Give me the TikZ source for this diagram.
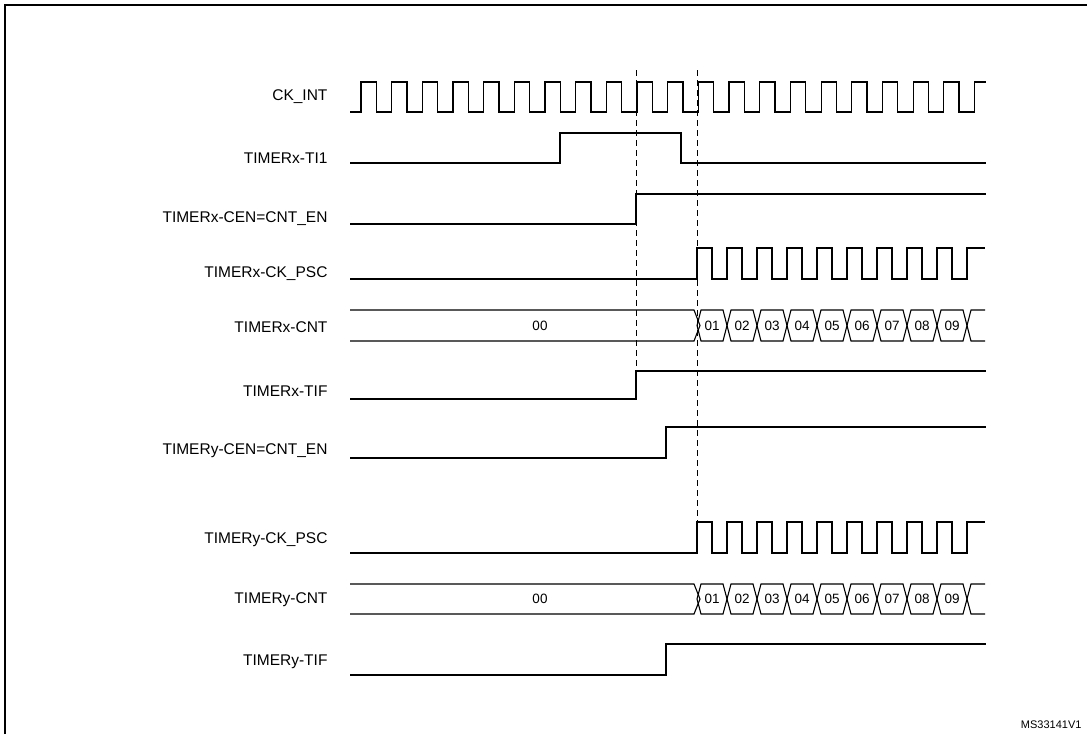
\documentclass[tikz,border=0pt]{standalone}
\usepackage{fontspec}
\setmainfont{Liberation Sans}
\begin{document}
\begin{tikzpicture}[x=1pt,y=-1pt,
  sig/.style={line width=1.1pt,black},
  lbl/.style={anchor=east,font=\fontsize{15.5}{18}\selectfont},
  dsh/.style={line width=1pt,dash pattern=on 6pt off 4pt},
  bv/.style={font=\fontsize{13.5}{16}\selectfont}]
\useasboundingbox (0,0) rectangle (1087,734);
\draw[line width=2pt] (5,734) -- (5,5) -- (1087,5);
% labels
\node[lbl] (l1) at (331,97) {CK\_INT};
\node[lbl] (l2) at (331,158) {TIMERx-TI1};
\node[lbl] (l3) at (331,219) {TIMERx-CEN=CNT\_EN};
\node[lbl] (l4) at (331,274) {TIMERx-CK\_PSC};
\node[lbl] (l5) at (331,327) {TIMERx-CNT};
\node[lbl] (l6) at (331,391) {TIMERx-TIF};
\node[lbl] (l7) at (331,451) {TIMERy-CEN=CNT\_EN};
\node[lbl] (l8) at (331,540) {TIMERy-CK\_PSC};
\node[lbl] (l9) at (331,600) {TIMERy-CNT};
\node[lbl] (l10) at (331,662) {TIMERy-TIF};
\node[anchor=south east,font=\fontsize{11}{13}\selectfont] (ms) at (1085,732) {MS33141V1};
% dashed
\draw[dsh] (636,70) -- (636,372);
\draw[dsh] (697,70) -- (697,522);
% CK_INT
\draw[sig] (350,112) -- (361,112)
  foreach \k in {0,...,19} { -- ({361+\k*30.67},112) -- ({361+\k*30.67},82) -- ({376.3+\k*30.67},82) -- ({376.3+\k*30.67},112) }
  -- (974.4,112) -- (974.4,82) -- (986,82);
% TI1
\draw[sig] (350,163) -- (560,163) -- (560,133) -- (681,133) -- (681,163) -- (986,163);
% CEN x
\draw[sig] (350,224) -- (636,224) -- (636,194) -- (986,194);
% CK_PSC x
\draw[sig] (350,279) -- (697,279)
  foreach \k in {0,...,8} { -- ({697+\k*30},279) -- ({697+\k*30},248) -- ({712+\k*30},248) -- ({712+\k*30},279) }
  -- (967,279) -- (967,248) -- (985,248);
% TIF x
\draw[sig] (350,399) -- (636,399) -- (636,371) -- (986,371);
% CEN y
\draw[sig] (350,458) -- (666,458) -- (666,427) -- (986,427);
% CK_PSC y
\draw[sig] (350,553) -- (697,553)
  foreach \k in {0,...,8} { -- ({697+\k*30},553) -- ({697+\k*30},522) -- ({712+\k*30},522) -- ({712+\k*30},553) }
  -- (967,553) -- (967,522) -- (985,522);
% TIF y
\draw[sig] (350,675) -- (666,675) -- (666,644) -- (986,644);
% buses
\foreach \yt/\yb in {310/341, 584/614} {
  \pgfmathsetmacro{\ym}{(\yt+\yb)/2}
  \draw[sig] (350,\yt) -- (694,\yt) -- (700,\ym) -- (694,\yb) -- (350,\yb);
  \node[bv] at (540,\ym) {00};
  \foreach \k [evaluate=\k as \lab using {int(\k+1)}] in {0,...,8} {
    \pgfmathsetmacro{\xa}{697+\k*30}
    \draw[sig] (\xa,\ym) -- (\xa+4,\yt) -- (\xa+26,\yt) -- (\xa+30,\ym) -- (\xa+26,\yb) -- (\xa+4,\yb) -- cycle;
    \node[bv] at (\xa+15,\ym) {0\lab};
  }
  \draw[sig] (985,\yt) -- (971,\yt) -- (967,\ym) -- (971,\yb) -- (985,\yb);
}
\end{tikzpicture}
\end{document}
